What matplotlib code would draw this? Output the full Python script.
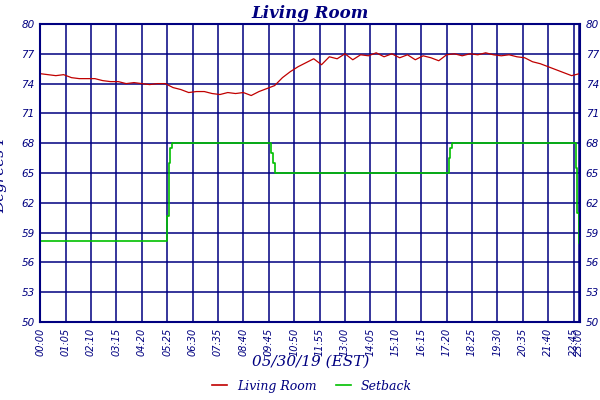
import matplotlib
matplotlib.use('Agg')
import matplotlib.pyplot as plt

NAVY = '#000080'

# living room temperature, minutes since midnight (20 min samples)
temp_min = list(range(0, 1381, 20))
temp_val = [75.0, 74.9, 74.8, 74.9, 74.6, 74.5, 74.5, 74.5, 74.3, 74.2,
            74.2, 74.0, 74.1, 74.0, 73.9, 74.0, 74.0, 73.6, 73.4, 73.1,
            73.2, 73.2, 73.0, 72.9, 73.1, 73.0, 73.1, 72.8, 73.2, 73.5,
            73.8, 74.6, 75.2, 75.7, 76.1, 76.5, 75.9, 76.7, 76.5, 77.0,
            76.4, 76.9, 76.8, 77.1, 76.7, 77.0, 76.6, 76.9, 76.4, 76.8,
            76.6, 76.3, 76.9, 77.0, 76.8, 77.0, 76.9, 77.1, 76.9, 76.8,
            76.9, 76.7, 76.6, 76.2, 76.0, 75.7, 75.4, 75.1, 74.8, 75.0]

# setback schedule
set_min = [0, 325, 330, 333, 338, 590, 595, 600, 1045, 1050, 1055, 1372, 1375, 1378, 1380]
set_val = [58.2, 60.7, 66.0, 67.5, 68.0, 67.0, 66.0, 65.0, 66.5, 67.5, 68.0, 65.5, 61.0, 58.0, 58.0]

xtick_min = [i * 65 for i in range(22)] + [1380]
xtick_lab = ['%02d:%02d' % (m // 60, m % 60) for m in xtick_min]
ytick = [50, 53, 56, 59, 62, 65, 68, 71, 74, 77, 80]

fig = plt.figure(figsize=(6, 4), dpi=100)
ax = fig.add_axes([0.067, 0.195, 0.9, 0.745])
ax.plot(temp_min, temp_val, color='#c00000', lw=0.9)
ax.plot(set_min, set_val, color='#00c000', lw=1.2, drawstyle='steps-post')
ax.set_xlim(0, 1382)
ax.set_ylim(50, 80)
ax.set_xticks(xtick_min)
ax.set_xticklabels(xtick_lab, rotation=90, fontsize=7, color=NAVY, style='italic')
ax.set_yticks(ytick)
ax.set_yticklabels([str(v) for v in ytick], fontsize=7.5, color=NAVY, style='italic')
ax.tick_params(length=0, pad=4, labelright=True)
ax.grid(True, color=NAVY, lw=1.1)
for s in ax.spines.values():
    s.set_color(NAVY)
    s.set_linewidth(1.5)

ax.set_title('Living Room', fontsize=12, color=NAVY, style='italic', fontweight='bold',
             family='DejaVu Serif', pad=4)
ax.set_ylabel('Degrees F', fontsize=11, color=NAVY, style='italic', family='DejaVu Serif',
              labelpad=10)
fig.text(0.517, 0.085, '05/30/19 (EST)', ha='center', fontsize=11, color=NAVY,
         style='italic', family='DejaVu Serif')

fig.legend(handles=[plt.Line2D([], [], color='#c00000', lw=1.2),
                    plt.Line2D([], [], color='#00c000', lw=1.2)],
           labels=['Living Room', 'Setback'], loc='lower center', ncol=2, frameon=False,
           bbox_to_anchor=(0.52, -0.01), handlelength=1.2, columnspacing=1.5,
           prop={'style': 'italic', 'size': 9, 'family': 'DejaVu Serif'}, labelcolor=NAVY)

fig.savefig('out.png', dpi=100, facecolor='white')
